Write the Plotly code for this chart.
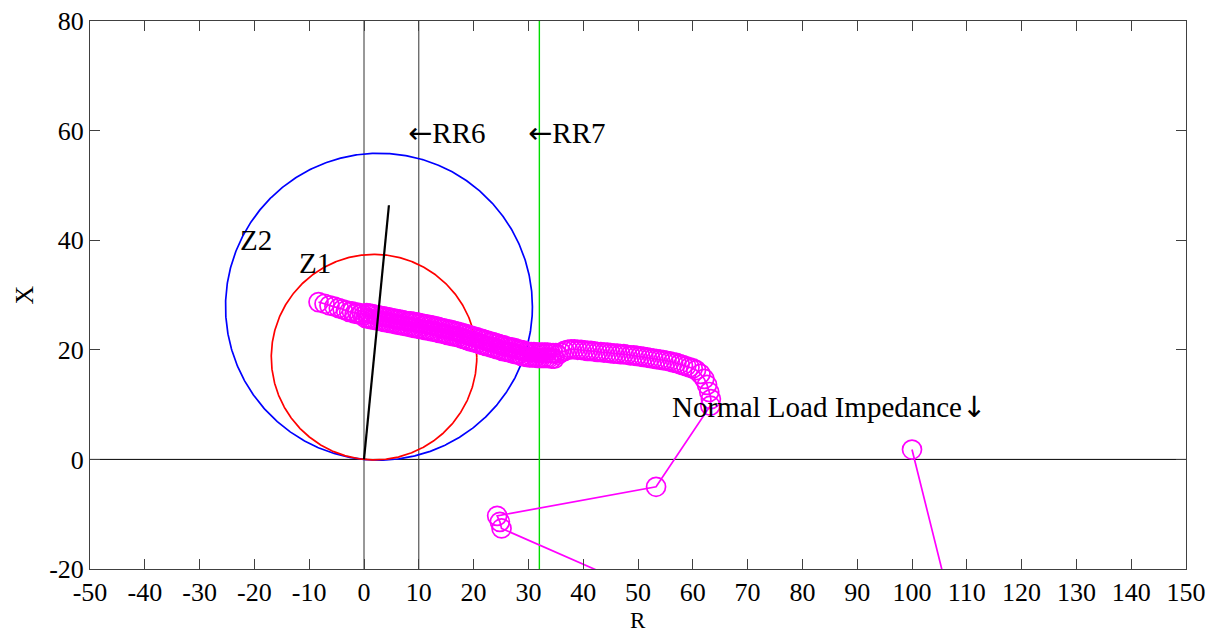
import numpy as np
import plotly.graph_objects as go

# Mho relay settings (ohms, degrees)
z1_reach = 37.5
z2_reach = 56.0
line_angle = 84.4
line_length = 46.6
rr6_r = 10.0
rr7_r = 32.0

# Apparent impedance trajectory seen by the relay (R, X in ohms)
traj_r = [
    100.0, 113.2, 25.1, 24.8, 24.3, 53.3, 63.2,
    63.3, 63.0, 62.6, 62.1, 61.4,
    60.6, 60.0, 59.4, 58.8, 58.2, 57.6, 57.0, 56.4, 55.8, 55.2,
    54.6, 54.0, 53.4, 52.8, 52.2, 51.6, 51.0, 50.4, 49.8, 49.2,
    48.6, 48.0, 47.4, 46.8, 46.2, 45.6, 45.0, 44.4, 43.8, 43.2,
    42.6, 42.0, 41.4, 40.8, 40.2, 39.6, 39.0, 38.4, 37.8, 37.2,
    36.6, 36.0, 35.4,
    35.0, 34.75, 34.5, 34.25, 34.0, 33.75, 33.5, 33.25, 33.0, 32.75,
    32.5, 32.25, 32.0, 31.75, 31.5, 31.25, 31.0, 30.75, 30.5, 30.25,
    30.0, 29.75, 29.5, 29.25, 29.0, 28.75, 28.5, 28.25, 28.0, 27.75,
    27.5, 27.25, 27.0, 26.75, 26.5, 26.25, 26.0, 25.75, 25.5, 25.25,
    25.0, 24.75, 24.5, 24.25, 24.0, 23.75, 23.5, 23.25, 23.0, 22.75,
    22.5, 22.25, 22.0, 21.75, 21.5, 21.25, 21.0, 20.75, 20.5, 20.25,
    20.0, 19.75, 19.5, 19.25, 19.0, 18.75, 18.5, 18.25, 18.0, 17.75,
    17.5, 17.25, 17.0, 16.75, 16.5, 16.25, 16.0, 15.75, 15.5, 15.25,
    15.0, 14.75, 14.5, 14.25, 14.0, 13.75, 13.5, 13.25, 13.0, 12.75,
    12.5, 12.25, 12.0, 11.75, 11.5, 11.25, 11.0, 10.75, 10.5, 10.25,
    10.0, 9.75, 9.5, 9.25, 9.0, 8.75, 8.5, 8.25, 8.0, 7.75,
    7.5, 7.25, 7.0, 6.75, 6.5, 6.25, 6.0, 5.75, 5.5, 5.25,
    5.0, 4.75, 4.5, 4.25, 4.0, 3.75, 3.5, 3.25, 3.0, 2.75,
    2.5, 2.25, 2.0, 1.75, 1.5, 1.25, 1.0, 0.75, 0.5, 0.25,
    0.0, -0.4, -0.8, -1.2, -1.7, -2.2, -2.7, -3.3, -3.9, -4.6,
    -5.4, -6.3, -7.2, -8.3,
]
traj_x = [
    1.8, -51.2, -12.6, -11.4, -10.3, -5.0, 9.8,
    11.0, 12.3, 13.6, 14.7, 15.6,
    16.3, 16.6, 16.8, 17.0, 17.2, 17.4, 17.6, 17.7, 17.9, 18.0,
    18.1, 18.2, 18.3, 18.4, 18.5, 18.6, 18.7, 18.8, 18.9, 19.0,
    19.0, 19.1, 19.2, 19.2, 19.3, 19.3, 19.4, 19.5, 19.5, 19.6,
    19.6, 19.7, 19.8, 19.8, 19.9, 20.0, 20.0, 20.1, 20.1, 20.0,
    19.8, 19.5, 19.1,
    19.4, 18.4, 19.4, 18.4, 19.4, 18.5, 19.5, 18.5, 19.5, 18.5,
    19.5, 18.5, 19.5, 18.5, 19.5, 18.6, 19.6, 18.6, 19.6, 18.6,
    19.6, 18.7, 19.7, 18.8, 19.9, 18.9, 20.0, 19.1, 20.1, 19.2,
    20.3, 19.3, 20.4, 19.5, 20.5, 19.6, 20.6, 19.7, 20.8, 19.8,
    20.9, 20.0, 21.1, 20.1, 21.2, 20.3, 21.4, 20.4, 21.5, 20.6,
    21.7, 20.7, 21.8, 20.9, 22.0, 21.0, 22.1, 21.2, 22.3, 21.3,
    22.4, 21.5, 22.6, 21.6, 22.7, 21.8, 22.9, 22.0, 23.0, 22.1,
    23.2, 22.3, 23.3, 22.4, 23.4, 22.5, 23.6, 22.6, 23.7, 22.7,
    23.8, 22.9, 23.9, 23.0, 24.0, 23.1, 24.2, 23.2, 24.3, 23.3,
    24.4, 23.4, 24.5, 23.6, 24.6, 23.6, 24.7, 23.7, 24.8, 23.8,
    24.9, 23.9, 25.0, 24.0, 25.1, 24.1, 25.2, 24.2, 25.2, 24.3,
    25.3, 24.4, 25.4, 24.5, 25.5, 24.6, 25.6, 24.7, 25.7, 24.8,
    25.8, 24.9, 25.9, 25.0, 26.0, 25.1, 26.1, 25.2, 26.2, 25.3,
    26.3, 25.4, 26.4, 25.5, 26.5, 25.6, 26.6, 25.7, 26.7, 25.8,
    26.3, 26.6, 26.4, 26.8, 26.6, 27.0, 26.9, 27.2, 27.4, 27.6,
    27.9, 28.1, 28.4, 28.7,
]

# Text labels: (R, X, text)
label_r = [-23.0, -12.3, 7.6, 29.6, 55.8]
label_x = [40.0, 35.8, 59.6, 59.6, 9.5]
ARROW_L = "<span style='font-family:DejaVu Sans'>\u2190</span>"
ARROW_D = "<span style='font-family:DejaVu Sans'>\u2193</span>"
label_text = ["Z2", "Z1", ARROW_L + "RR6", ARROW_L + "RR7",
              "Normal Load Impedance" + ARROW_D]

x_ticks = list(range(-50, 151, 10))
y_ticks = list(range(-20, 81, 20))

FONT = "'Liberation Serif', 'Times New Roman', serif"
FSIZE = 29
TICK_SIZE = 26

fig = go.Figure()

# reference axes through the origin and resistive reach lines
fig.add_trace(go.Scatter(x=[0, 0], y=[-20, 80], mode="lines",
                         line=dict(color="#333333", width=1), hoverinfo="skip"))
fig.add_trace(go.Scatter(x=[-50, 150], y=[0, 0], mode="lines",
                         line=dict(color="#000000", width=1), hoverinfo="skip"))
fig.add_trace(go.Scatter(x=[rr6_r, rr6_r], y=[-20, 80], mode="lines",
                         line=dict(color="#333333", width=1), hoverinfo="skip"))
fig.add_trace(go.Scatter(x=[rr7_r, rr7_r], y=[-20, 80], mode="lines",
                         line=dict(color="#00dd00", width=1.4), hoverinfo="skip"))

# mho circles: diameter along the line angle, passing through the origin
theta = np.linspace(0, 2 * np.pi, 721)
ang = np.deg2rad(line_angle)
for reach, col in [(z2_reach, "#0000ff"), (z1_reach, "#ff0000")]:
    cx = reach / 2 * np.cos(ang)
    cy = reach / 2 * np.sin(ang)
    fig.add_trace(go.Scatter(x=cx + reach / 2 * np.cos(theta),
                             y=cy + reach / 2 * np.sin(theta),
                             mode="lines", line=dict(color=col, width=1.7),
                             hoverinfo="skip"))

# impedance trajectory
fig.add_trace(go.Scatter(x=traj_r, y=traj_x, mode="lines+markers",
                         line=dict(color="#ff00ff", width=1.7),
                         marker=dict(symbol="circle-open", size=19,
                                     color="#ff00ff",
                                     line=dict(color="#ff00ff", width=1.7)),
                         hoverinfo="skip"))

# protected line impedance
fig.add_trace(go.Scatter(x=[0, line_length * np.cos(ang)],
                         y=[0, line_length * np.sin(ang)],
                         mode="lines", line=dict(color="#000000", width=2.2),
                         hoverinfo="skip"))

for r, x, t in zip(label_r, label_x, label_text):
    fig.add_annotation(x=r, y=x, text=t, showarrow=False,
                       xanchor="left", yanchor="middle",
                       font=dict(family=FONT, size=FSIZE, color="#000000"))

# horizontal axis label
fig.add_annotation(x=0.5, y=-0.1186, xref="paper", yref="paper", text="R",
                   showarrow=False, xanchor="center", yanchor="bottom",
                   borderpad=0,
                   font=dict(family=FONT, size=23, color="#000000"))

axis_common = dict(showgrid=False, zeroline=False, showline=True,
                   linecolor="#404040", linewidth=1, mirror="allticks",
                   ticks="inside", ticklen=10, tickcolor="#404040",
                   tickwidth=1, automargin=False,
                   tickfont=dict(family=FONT, size=TICK_SIZE, color="#000000"))

fig.update_layout(
    width=1217, height=635, autosize=False,
    margin=dict(l=90, r=31, t=21, b=66),
    plot_bgcolor="#ffffff", paper_bgcolor="#ffffff",
    showlegend=False,
    xaxis=dict(range=[-50, 150], tickvals=x_ticks,
               ticktext=[str(v) for v in x_ticks],
               **axis_common),
    yaxis=dict(range=[-20, 80], tickvals=y_ticks,
               ticktext=[str(v) for v in y_ticks],
               title=dict(text="X", font=dict(family=FONT, size=TICK_SIZE, color="#000000"),
                          standoff=8),
               **axis_common),
)

fig.write_html("out.html")
